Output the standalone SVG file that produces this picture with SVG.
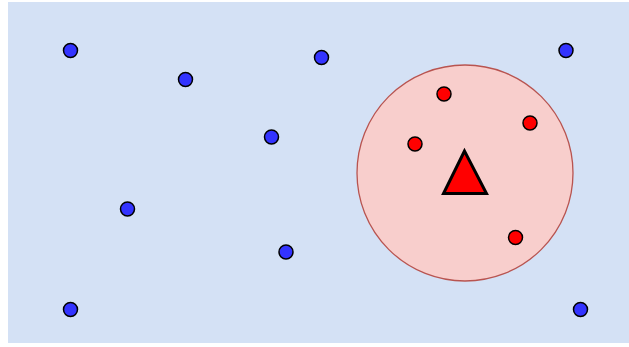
<svg xmlns="http://www.w3.org/2000/svg" width="629" height="347" viewBox="0 0 629 347">
<style>
.b{fill:#3333ff;stroke:#000;stroke-width:1.5}
.r{fill:#ff0000;stroke:#000;stroke-width:1.5}
</style>
<rect x="8" y="2" width="621" height="341" fill="#d4e1f5"/>
<g id="zone"><circle cx="465" cy="173" r="108" fill="#f8cecc" stroke="#b85450" stroke-width="1.3"/></g>
<g id="blue-nodes">
<circle class="b" cx="70.5" cy="50.5" r="7"/>
<circle class="b" cx="185.5" cy="79.5" r="7"/>
<circle class="b" cx="321.5" cy="57.5" r="7"/>
<circle class="b" cx="566" cy="50.5" r="7"/>
<circle class="b" cx="271.5" cy="137" r="7"/>
<circle class="b" cx="127.5" cy="209" r="7"/>
<circle class="b" cx="286" cy="252" r="7"/>
<circle class="b" cx="70.5" cy="309.5" r="7"/>
<circle class="b" cx="580.5" cy="309.5" r="7"/>
</g>
<g id="red-nodes">
<circle class="r" cx="444" cy="94" r="7"/>
<circle class="r" cx="530" cy="123" r="7"/>
<circle class="r" cx="415" cy="144" r="7"/>
<circle class="r" cx="515.5" cy="237.5" r="7"/>
</g>
<g id="triangle"><polygon points="464.5,151 443.5,193.5 486.5,193.5" fill="#ff0000" stroke="#000" stroke-width="3"/></g>
<g id="connectors"/>
</svg>
